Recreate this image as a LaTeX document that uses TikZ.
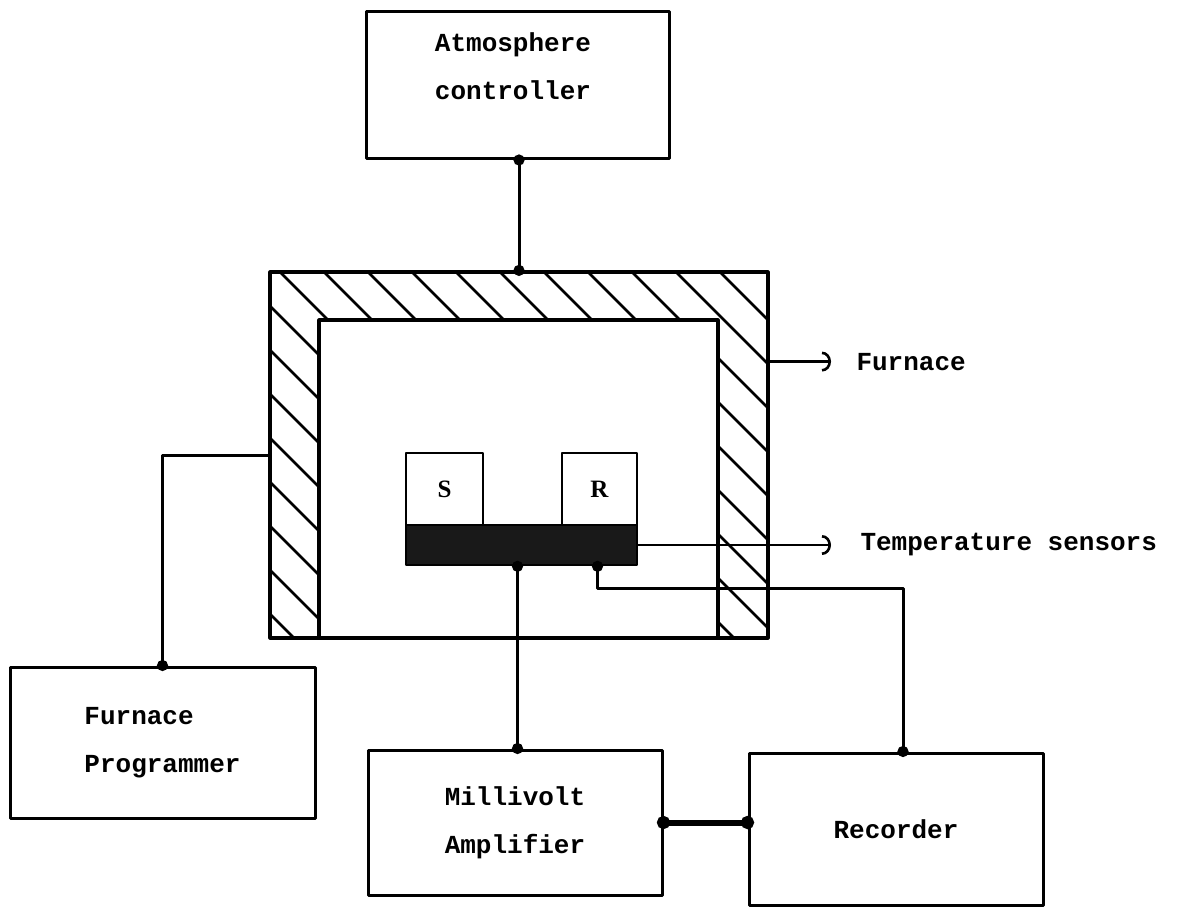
\documentclass[tikz,border=0pt]{standalone}
\usepackage{fontspec}
\setmainfont{Liberation Serif}
\setmonofont{Liberation Mono}
\usetikzlibrary{arrows.meta,positioning}

\begin{document}
\begin{tikzpicture}[x=1pt, y=-1pt, line join=round]
        \tikzset{box/.style={draw, line width=3pt, inner sep=0pt, align=left,
                font=\ttfamily\bfseries\fontsize{26}{48}\selectfont},
            lbl/.style={align=left, font=\ttfamily\bfseries\fontsize{26}{48}\selectfont},
            wall/.style={draw, line width=3.2pt, inner sep=0pt},
            sensor/.style={draw, line width=2.6pt, minimum height=72pt, inner sep=0pt,
                font=\bfseries\fontsize{25}{30}\selectfont},
            wire/.style={line width=3pt},
            hatch/.style={line width=2.6pt},
            dots/.style={{Circle[length=11pt]}-{Circle[length=11pt]}, shorten <=-5.5pt, shorten >=-5.5pt},
            pointer/.style={line width=2.6pt, -{Arc Barb[length=9pt,width=20pt]}}}
        \useasboundingbox (0,0) rectangle (1177,908);

        % boxes
        \node[box, minimum width=303pt, minimum height=147pt,
            label={[lbl, xshift=-5pt, yshift=19pt]center:{Atmosphere\\controller}}] (atm) at (518,85) {};
        \node[box, minimum width=305pt, minimum height=151pt] (prog) at (162.5,742.5) {Furnace\\Programmer};
        \node[box, minimum width=294pt, minimum height=145pt] (amp) at (515,822.5) {Millivolt\\Amplifier};
        \node[box, minimum width=294pt, minimum height=152pt] (rec) at (896,829) {Recorder};

        % furnace walls with hatching
        \begin{scope}[even odd rule]
            \clip (270,272) rectangle (768,638) (319,320) rectangle (718,638);
            \foreach \c in {-448,-404,...,360}
                \draw[hatch] (260,260+\c) -- (780,780+\c);
        \end{scope}
        \node[wall, minimum width=498pt, minimum height=366pt] (furnace) at (519,455) {};
        \node[wall, minimum width=399pt, minimum height=318pt] (chamber) at (518.5,479) {};

        % sample and reference holders
        \node[sensor, minimum width=77pt] (s) at (444.5,489) {S};
        \node[sensor, minimum width=75pt] (r) at (599.5,489) {R};
        \node[draw, fill=black!90, line width=2.6pt, minimum width=231pt, minimum height=40pt] (bar) at (521.5,545) {};

        \node[lbl, anchor=base west] (flbl) at (853,370) {Furnace};
        \node[lbl, anchor=base west] (tlbl) at (857,550) {Temperature sensors};

        % connections
        \draw[wire, dots] (furnace.north |- atm.south) -- (furnace.north);
        \draw[wire, {Circle[length=11pt]}-, shorten <=-5.5pt] (prog.north) |- (furnace.west);
        \draw[wire, dots] ([xshift=-4pt]bar.south) -- ([xshift=-4pt]bar.south |- amp.north);
        \coordinate (rtap) at (903,588);
        \draw[wire, dots] ([xshift=76pt]bar.south) |- (rtap) -- (rtap |- rec.north);
        \draw[line width=6pt, {Circle[length=13pt]}-{Circle[length=13pt]}, shorten <=-6.5pt, shorten >=-6.5pt]
            (amp.east) -- (amp.east -| rec.west);

        \draw[pointer, shorten >=22pt] (furnace.east |- flbl.west) -- (flbl.west);
        \draw[pointer, shorten >=26pt] (bar.east) -- (bar.east -| tlbl.west);
    \end{tikzpicture}
\end{document}
